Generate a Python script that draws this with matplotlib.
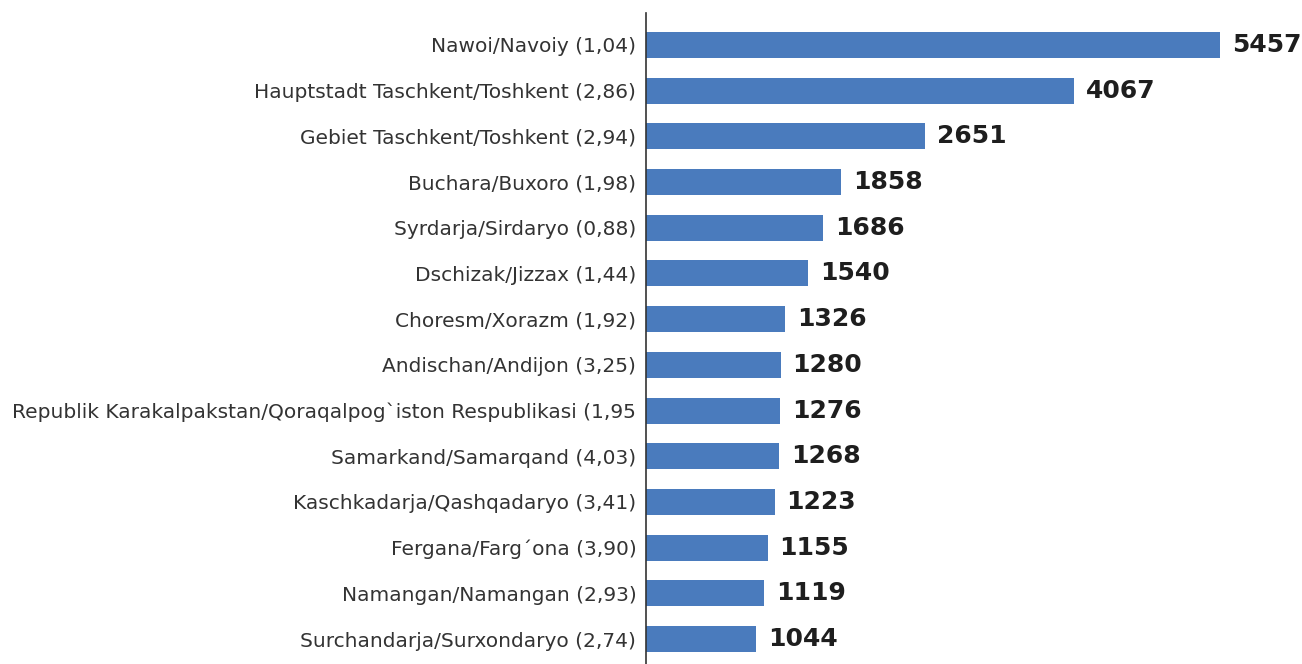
import matplotlib
matplotlib.use('Agg')
import matplotlib.pyplot as plt

regions = [
    'Nawoi/Navoiy (1,04)',
    'Hauptstadt Taschkent/Toshkent (2,86)',
    'Gebiet Taschkent/Toshkent (2,94)',
    'Buchara/Buxoro (1,98)',
    'Syrdarja/Sirdaryo (0,88)',
    'Dschizak/Jizzax (1,44)',
    'Choresm/Xorazm (1,92)',
    'Andischan/Andijon (3,25)',
    'Republik Karakalpakstan/Qoraqalpog`iston Respublikasi (1,95',
    'Samarkand/Samarqand (4,03)',
    'Kaschkadarja/Qashqadaryo (3,41)',
    'Fergana/Farg´ona (3,90)',
    'Namangan/Namangan (2,93)',
    'Surchandarja/Surxondaryo (2,74)',
]
values = [5457, 4067, 2651, 1858, 1686, 1540, 1326, 1280, 1276, 1268, 1223, 1155, 1119, 1044]

bar_color = '#4a7bbd'
text_color = '#333333'
value_color = '#1e1e1e'

fig = plt.figure(figsize=(13.02, 6.64), dpi=100)
ax = fig.add_axes([646 / 1302, 0, 656 / 1302, 1 - 13 / 664])

pos = list(range(len(values)))
ax.barh(pos, values, height=0.57, color=bar_color)

for p, v in zip(pos, values):
    ax.annotate(str(v), xy=(v, p), xytext=(8.6, 0), textcoords='offset points',
                ha='left', va='center', fontsize=18, fontweight='bold',
                color=value_color, family='DejaVu Sans')

ax.set_xlim(0, 6236)
ax.set_ylim(13 + 25 / 45.7, -32 / 45.7)
ax.set_yticks(pos)
ax.set_yticklabels(regions, fontsize=14.5, color=text_color, family='DejaVu Sans')
ax.tick_params(axis='y', length=0, pad=7)
ax.set_xticks([])

for s in ['top', 'right', 'bottom']:
    ax.spines[s].set_visible(False)
ax.spines['left'].set_color('#333333')
ax.spines['left'].set_linewidth(1.2)

fig.savefig('out.png', dpi=100)
